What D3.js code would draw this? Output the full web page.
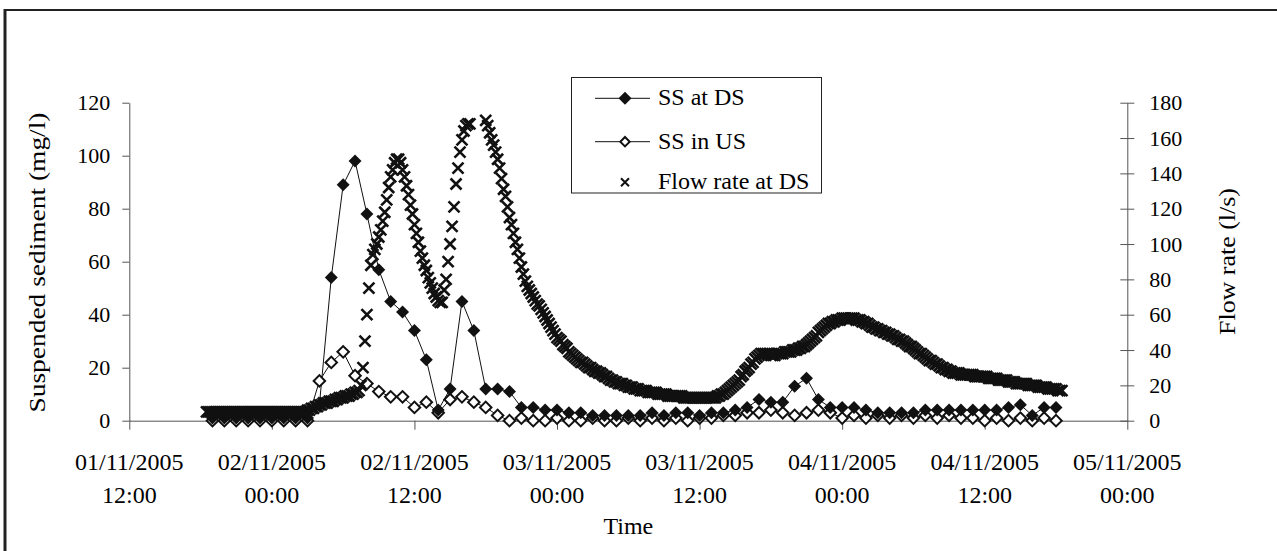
<!DOCTYPE html>
<html>
<head>
<meta charset="utf-8">
<script src="https://cdn.jsdelivr.net/npm/d3@7"></script>
<style>
  body { margin: 0; background: #fff; }
  text { font-family: "Liberation Serif", "Times New Roman", serif; fill: #000; }
</style>
</head>
<body>
<div id="chart-area"></div>
<script>
// ---- data ----
// flow rate at DS (l/s), one reading every 10 minutes from 01/11/2005 18:30
var flowStart = new Date(2005, 10, 1, 18, 30);
var flowStepMinutes = 10;
var flowRate = [
  5,5,5,5,5,5, 5,5,5,5,5,5, 5,5,5,5,5,5, 5,5,5,5,5,5,
  5,5,5,5,5,5, 5,5,5,5,5,5, 5,5,5,5,5,5, 5,5,5,5,5,5,
  5,5,5,6,6,7, 7,8,8,9,9,10, 10,10,11,11,11,12, 12,13,13,13,14,14,
  14,15,15,16,16,17, 20,30,45,60,75,88, 94,97,100,104,108,113, 118,125,132,138,142,146,
  148,148,146,142,138,133, 128,122,117,111,106,101, 96,92,88,85,81,78, 75,72,70,68,67,67,
  74,80,90,100,110,121, 134,143,152,159,164,167, 168,168,null,null,null,null, null,null,null,170,167,163,
  159,156,152,148,143,137, 131,127,121,115,111,106, 101,97,92,87,83,79, 76,74,72,70,68,66,
  65,63,61,59,57,55, 53,51,49,47,46,45, 43,42,41,39,38,37, 36,35,34,33,33,32,
  31,30,30,29,28,28, 27,27,26,25,25,24, 23,23,22,22,21,21, 21,20,20,19,19,19,
  18,18,18,17,17,17, 17,16,16,16,16,16, 15,15,15,15,15,14, 14,14,14,14,14,14,
  14,13,13,13,13,13, 13,13,13,13,13,13, 13,13,13,13,13,13, 14,14,15,15,16,17,
  18,19,20,21,22,23, 25,26,28,29,30,32, 33,35,36,37,38,38, 38,38,38,37,37,37,
  38,38,38,38,39,39, 39,39,40,40,40,41, 41,42,42,43,44,45, 46,47,48,50,51,52,
  53,54,55,55,56,56, 57,57,57,58,58,58, 58,58,58,58,57,57, 57,56,56,55,55,54,
  53,53,52,52,51,51, 50,50,49,49,48,48, 47,46,46,45,45,44, 43,42,42,41,40,39,
  38,38,37,36,35,34, 34,33,32,32,31,30, 30,29,29,28,28,27, 27,27,27,26,26,26,
  26,26,26,26,25,25, 25,25,25,25,25,24, 24,24,24,24,23,23, 23,23,23,22,22,22,
  22,21,21,21,21,21, 21,20,20,20,20,20, 19,19,19,19,19,18, 18,18,18,18,17,17,
  17
];

// suspended sediment (mg/l), hourly from 01/11/2005 19:00
var ssStart = new Date(2005, 10, 1, 19, 0);
var ssStepMinutes = 60;
var ssAtDS = [
  1,1,1,1,1,1,1,1,1,
  6,54,89,98,78,57,45,41,34,23,4,12,45,34,12,12,11,5,5,4,
  4,3,3,2,2,2,2,2,3,2,3,3,2,3,3,4,5,8,7,7,13,16,8,5,5,5,4,3,3,3,3,4,4,4,4,4,4,4,5,6,2,5,5
];
var ssInUS = [
  0,0,0,0,0,0,0,0,0,
  15,22,26,17,14,11,9,9,5,7,3,8,9,7,5,2,0,1,
  0,0,1,0,0,1,0,0,1,0, 1,0,1,0,1,1,2,2,3,3, 4,3,2,3,4,3,1,2,1,2, 1,2,1,2,1,2,1,1,0,1, 0,1,0,1,0
];

var xTickDates = [
  new Date(2005, 10, 1, 12), new Date(2005, 10, 2, 0), new Date(2005, 10, 2, 12),
  new Date(2005, 10, 3, 0), new Date(2005, 10, 3, 12), new Date(2005, 10, 4, 0),
  new Date(2005, 10, 4, 12), new Date(2005, 10, 5, 0)
];
var ssTicks = [0, 20, 40, 60, 80, 100, 120];
var flowTicks = [0, 20, 40, 60, 80, 100, 120, 140, 160, 180];
var legendLabels = ["SS at DS", "SS in US", "Flow rate at DS"];

// ---- layout ----
var margin = {left: 129.3, top: 102.7};
var width = 998, height = 318;

function addMinutes(start, m) { return new Date(start.getTime() + m * 60000); }

var flowData = flowRate.map(function(v, i) { return {date: addMinutes(flowStart, i * flowStepMinutes), v: v}; })
  .filter(function(d) { return d.v !== null; });
var dsData = ssAtDS.map(function(v, i) { return {date: addMinutes(ssStart, i * ssStepMinutes), v: v}; });
var usData = ssInUS.map(function(v, i) { return {date: addMinutes(ssStart, i * ssStepMinutes), v: v}; });

var svg = d3.select("#chart-area")
  .append("svg")
    .attr("width", 1277)
    .attr("height", 551);

// outer frame (only top and left edges are in view)
svg.append("line").attr("x1", 5).attr("y1", 9).attr("x2", 5).attr("y2", 551)
  .attr("stroke", "#222").attr("stroke-width", 3);
svg.append("line").attr("x1", 4).attr("y1", 10).attr("x2", 1277).attr("y2", 10)
  .attr("stroke", "#222").attr("stroke-width", 2);

var g = svg.append("g")
  .attr("transform", "translate(" + margin.left + "," + margin.top + ")");

var x = d3.scaleTime()
  .domain([xTickDates[0], xTickDates[xTickDates.length - 1]])
  .range([0, width]);
var y = d3.scaleLinear().domain([0, 120]).range([height, 0]);
var y2 = d3.scaleLinear().domain([0, 180]).range([height, 0]);

var axisColor = "#555";

// x axis
var xAxisG = g.append("g")
  .attr("transform", "translate(0," + height + ")")
  .call(d3.axisBottom(x).tickValues(xTickDates).tickSize(9).tickSizeOuter(0).tickFormat(""));
xAxisG.selectAll("path, line").attr("stroke", axisColor);

var fmtDate = d3.timeFormat("%d/%m/%Y"), fmtTime = d3.timeFormat("%H:%M");
var xLab = g.selectAll(".xlab").data(xTickDates).enter().append("text")
  .attr("class", "xlab")
  .attr("text-anchor", "middle")
  .attr("font-size", "24px");
xLab.append("tspan").attr("x", function(d) { return x(d); }).attr("y", 367.3).text(fmtDate);
xLab.append("tspan").attr("x", function(d) { return x(d); }).attr("y", 400.3).text(fmtTime);

g.append("text")
  .attr("x", width / 2).attr("y", 431.3)
  .attr("text-anchor", "middle")
  .attr("font-size", "24px")
  .text("Time");

// left axis
var yAxisG = g.append("g")
  .call(d3.axisLeft(y).tickValues(ssTicks).tickSize(7).tickSizeOuter(0).tickPadding(12));
yAxisG.selectAll("path, line").attr("stroke", axisColor);
yAxisG.selectAll("text").attr("font-size", "22px").attr("font-family", "Liberation Serif").attr("fill", "#000");

g.append("text")
  .attr("transform", "translate(" + (45 - margin.left) + "," + (262.5 - margin.top) + ") rotate(-90)")
  .attr("text-anchor", "middle")
  .attr("font-size", "24px")
  .attr("textLength", 300)
  .attr("lengthAdjust", "spacingAndGlyphs")
  .text("Suspended sediment (mg/l)");

// right axis
var y2AxisG = g.append("g")
  .attr("transform", "translate(" + width + ",0)")
  .call(d3.axisRight(y2).tickValues(flowTicks).tickSize(7).tickSizeOuter(0).tickPadding(15));
y2AxisG.selectAll("path, line").attr("stroke", axisColor);
y2AxisG.selectAll(".tick line").attr("x1", -7);
y2AxisG.selectAll("text").attr("font-size", "22px").attr("font-family", "Liberation Serif").attr("fill", "#000");

g.append("text")
  .attr("transform", "translate(" + (1235 - margin.left) + "," + (261.5 - margin.top) + ") rotate(-90)")
  .attr("text-anchor", "middle")
  .attr("font-size", "24px")
  .attr("textLength", 147)
  .attr("lengthAdjust", "spacingAndGlyphs")
  .text("Flow rate (l/s)");

// ---- series ----
var diamondFilled = d3.symbol().type(d3.symbolSquare).size(84);
var diamondOpen = d3.symbol().type(d3.symbolSquare).size(66);
var crossPath = "M-5.5,-5.5L5.5,5.5M-5.5,5.5L5.5,-5.5";

var line = d3.line()
  .x(function(d) { return x(d.date); })
  .y(function(d) { return y(d.v); });

// SS in US
g.append("path").datum(usData)
  .attr("d", line).attr("fill", "none").attr("stroke", "#111").attr("stroke-width", 1);
// SS at DS
g.append("path").datum(dsData)
  .attr("d", line).attr("fill", "none").attr("stroke", "#111").attr("stroke-width", 1);

g.selectAll(".us").data(usData).enter().append("path")
  .attr("class", "us")
  .attr("d", diamondOpen)
  .attr("transform", function(d) { return "translate(" + x(d.date) + "," + y(d.v) + ") rotate(45)"; })
  .attr("fill", "#fff").attr("stroke", "#111").attr("stroke-width", 2);

g.selectAll(".ds").data(dsData).enter().append("path")
  .attr("class", "ds")
  .attr("d", diamondFilled)
  .attr("transform", function(d) { return "translate(" + x(d.date) + "," + y(d.v) + ") rotate(45)"; })
  .attr("fill", "#111");

// flow rate (secondary axis)
g.selectAll(".flow").data(flowData).enter().append("path")
  .attr("class", "flow")
  .attr("d", crossPath)
  .attr("transform", function(d) { return "translate(" + x(d.date) + "," + y2(d.v) + ")"; })
  .attr("fill", "none").attr("stroke", "#111").attr("stroke-width", 2.6);

// ---- legend ----
var legend = svg.append("g");
legend.append("rect")
  .attr("x", 571.5).attr("y", 77.5).attr("width", 250).attr("height", 115.5)
  .attr("fill", "#fff").attr("stroke", "#222").attr("stroke-width", 1);

var rowY = [98.3, 141.7, 182.3];
legendLabels.forEach(function(label, i) {
  var ry = rowY[i];
  if (i < 2) {
    legend.append("line").attr("x1", 595).attr("x2", 650).attr("y1", ry).attr("y2", ry)
      .attr("stroke", "#111").attr("stroke-width", 1);
  }
  if (i === 0) {
    legend.append("path").attr("d", diamondFilled)
      .attr("transform", "translate(625," + ry + ") rotate(45)").attr("fill", "#111");
  } else if (i === 1) {
    legend.append("path").attr("d", d3.symbol().type(d3.symbolSquare).size(44))
      .attr("transform", "translate(625," + ry + ") rotate(45)")
      .attr("fill", "#fff").attr("stroke", "#111").attr("stroke-width", 2);
  } else {
    legend.append("path").attr("d", "M-4,-4L4,4M-4,4L4,-4")
      .attr("transform", "translate(625," + ry + ")")
      .attr("fill", "none").attr("stroke", "#111").attr("stroke-width", 2);
  }
  legend.append("text")
    .attr("x", 658).attr("y", ry + 7)
    .attr("font-size", "24px")
    .text(label);
});
</script>
</body>
</html>
